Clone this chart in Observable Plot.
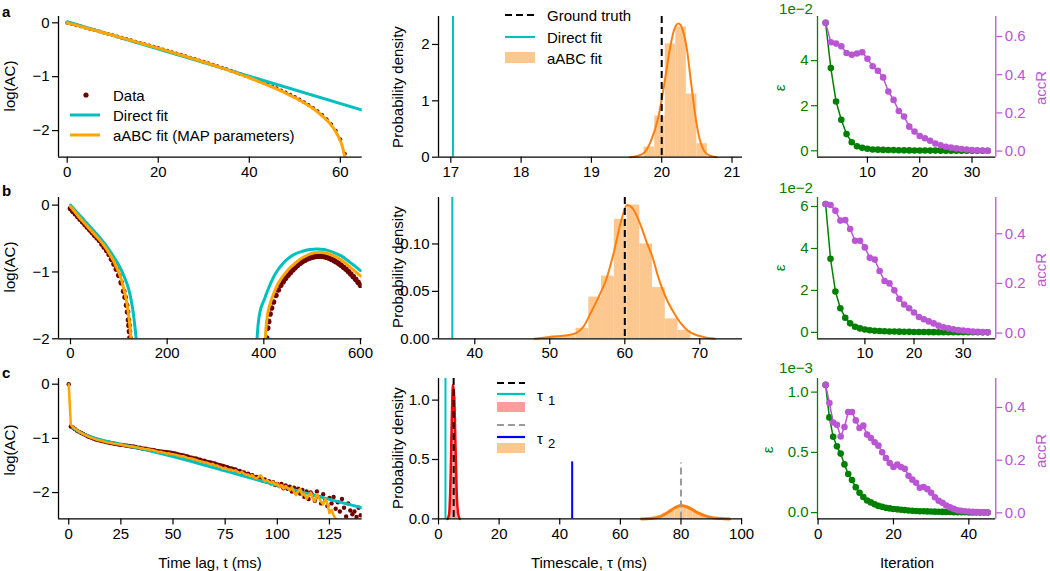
<!DOCTYPE html>
<html>
<head>
<meta charset="utf-8">
<script src="https://cdn.jsdelivr.net/npm/d3@7"></script>
<script src="https://cdn.jsdelivr.net/npm/@observablehq/plot@0.6"></script>
<style>
html,body{margin:0;padding:0;background:#fff;}
#fig{position:relative;width:1050px;height:571px;overflow:hidden;background:#fff;}
#fig svg{position:absolute;}
</style>
</head>
<body>
<div id="fig"></div>
<script>
// ================= DATA =================
// Row a, left: log(AC) of the data at t = 0,1,2,... ms
const aDataLog = [0,-0.02,-0.045,-0.068,-0.091,-0.114,-0.137,-0.16,-0.183,-0.206,
  -0.23,-0.253,-0.277,-0.3,-0.324,-0.348,-0.371,-0.395,-0.419,-0.444,
  -0.468,-0.493,-0.518,-0.543,-0.568,-0.593,-0.619,-0.645,-0.67,-0.697,
  -0.723,-0.75,-0.777,-0.805,-0.833,-0.861,-0.89,-0.92,-0.949,-0.98,
  -1.011,-1.043,-1.075,-1.109,-1.143,-1.178,-1.215,-1.253,-1.292,-1.333,
  -1.377,-1.423,-1.471,-1.523,-1.578,-1.638,-1.71,-1.79,-1.88,-2.0,
  -2.16,-2.43];
const aMapFit = [[0,0],[5,-0.115],[10,-0.232],[15,-0.35],[20,-0.47],[25,-0.597],[30,-0.728],[35,-0.868],[40,-1.02],[42,-1.087],[44,-1.155],[46,-1.228],[48,-1.305],[50,-1.39],[51,-1.435],[52,-1.483],[53,-1.535],[54,-1.592],[55,-1.655],[56,-1.725],[57,-1.805],[58,-1.9],[59,-2.02],[60,-2.19],[60.5,-2.31],[61,-2.5]];
const aDirectFit = [[0,0.02],[64.8,-1.62]];
// Row a, middle: posterior of tau
const aHistEdges = [19.75,19.9,20.05,20.2,20.35,20.5,20.65];
const aHistDens  = [0.18,0.73,2.01,2.31,1.12,0.24];
const aKde = [[19.55,0],[19.65,0.02],[19.75,0.08],[19.85,0.3],[19.95,0.7],[20.05,1.4],[20.12,1.95],[20.18,2.27],[20.24,2.37],[20.3,2.25],[20.36,1.9],[20.42,1.3],[20.48,0.72],[20.54,0.32],[20.6,0.12],[20.68,0.03],[20.78,0]];
const aTruth = 20.0, aDirect = 17.03;
// Row a, right: epsilon (x1e-2) and acceptance rate, iterations 2..33
const aEps = [5.68,3.67,2.19,1.38,0.74,0.38,0.2,0.13,0.09,0.06,0.05,0.04,0.035,0.03,0.025,0.02,0.018,0.015,0.012,0.01,0.009,0.008,0.007,0.006,0.005,0.004,0.004,0.003,0.003,0.002,0.002,0.002];
const aAcc = [0.672,0.570,0.563,0.549,0.514,0.505,0.511,0.518,0.484,0.444,0.421,0.386,0.312,0.268,0.21,0.181,0.128,0.102,0.079,0.067,0.054,0.04,0.03,0.023,0.018,0.014,0.011,0.008,0.006,0.004,0.003,0.002];

// Row b, left: two visible lobes of log(AC)
const bData1 = [[0,-0.05],[5,-0.09],[10,-0.13],[15,-0.17],[20,-0.21],[25,-0.25],[30,-0.29],[35,-0.33],[40,-0.37],[45,-0.41],[50,-0.45],[55,-0.49],[60,-0.53],[65,-0.58],[70,-0.63],[75,-0.68],[80,-0.74],[85,-0.81],[90,-0.88],[95,-0.96],[100,-1.05],[105,-1.16],[110,-1.29],[113,-1.38],[116,-1.5],[118,-1.6],[120,-1.72],[121,-1.8],[122,-1.89],[123,-1.99]];
const bData2 = [[406,-1.99],[408,-1.84],[410,-1.74],[413,-1.63],[416,-1.54],[420,-1.45],[425,-1.35],[430,-1.27],[435,-1.2],[440,-1.145],[445,-1.095],[450,-1.05],[455,-1.01],[460,-0.97],[465,-0.935],[470,-0.9],[475,-0.87],[480,-0.845],[485,-0.825],[490,-0.805],[495,-0.79],[500,-0.78],[505,-0.77],[510,-0.765],[515,-0.763],[520,-0.765],[525,-0.77],[530,-0.78],[535,-0.795],[540,-0.81],[545,-0.83],[550,-0.85],[555,-0.875],[560,-0.9],[565,-0.93],[570,-0.96],[575,-0.995],[580,-1.03],[585,-1.07],[590,-1.11],[595,-1.155],[600,-1.2]];
const bMap1 = [[0,-0.02],[10,-0.11],[20,-0.2],[30,-0.28],[40,-0.36],[50,-0.44],[60,-0.52],[70,-0.61],[80,-0.72],[90,-0.85],[100,-1.01],[105,-1.11],[110,-1.24],[115,-1.4],[120,-1.63],[123,-1.82],[125,-2.0]];
const bMap2 = [[403,-2.0],[405,-1.8],[408,-1.62],[413,-1.48],[420,-1.33],[430,-1.17],[441,-1.05],[450,-0.97],[460,-0.9],[475,-0.81],[490,-0.75],[500,-0.72],[510,-0.71],[520,-0.71],[530,-0.72],[545,-0.76],[560,-0.82],[579,-0.93],[590,-1.0],[600,-1.06]];
const bDir1 = [[0,0.0],[10,-0.08],[20,-0.16],[30,-0.24],[40,-0.32],[50,-0.4],[60,-0.48],[70,-0.57],[80,-0.67],[90,-0.78],[100,-0.9],[110,-1.05],[120,-1.25],[125,-1.4],[130,-1.62],[133,-1.8],[136,-2.0]];
const bDir2 = [[386,-2.0],[388,-1.8],[392,-1.6],[400,-1.43],[410,-1.24],[420,-1.08],[427.5,-0.985],[440,-0.87],[450,-0.8],[462,-0.74],[480,-0.69],[495,-0.665],[510,-0.655],[525,-0.665],[545,-0.71],[560,-0.76],[579,-0.86],[590,-0.92],[600,-0.98]];
// Row b, middle
const bHistEdges = [50.1,51.8,53.5,55.2,56.9,58.6,60.3,62.0,63.7,65.4,67.1,68.8];
const bHistDens  = [0.003,0.003,0.011,0.044,0.066,0.126,0.141,0.1,0.054,0.021,0.0087];
const bKde = [[48,0],[50,0.002],[51.5,0.003],[52.5,0.004],[53.5,0.006],[54.5,0.013],[55.5,0.028],[56.5,0.044],[57.5,0.062],[58.5,0.09],[59.5,0.124],[60.3,0.141],[61,0.138],[62,0.122],[63,0.1],[63.7,0.086],[64.5,0.064],[65.5,0.043],[66.5,0.028],[67.5,0.016],[68.5,0.008],[69.5,0.004],[70.5,0.002],[72,0]];
const bTruth = 60, bDirect = 37.0;
// Row b, right: iterations 2..35
const bEps = [6.12,3.51,1.95,1.15,0.7,0.43,0.27,0.19,0.14,0.1,0.08,0.065,0.055,0.045,0.04,0.035,0.03,0.025,0.02,0.018,0.015,0.013,0.011,0.009,0.008,0.007,0.006,0.005,0.004,0.004,0.003,0.003,0.002,0.002];
const bAcc = [0.52,0.516,0.493,0.453,0.455,0.419,0.372,0.372,0.345,0.303,0.296,0.25,0.21,0.2,0.172,0.138,0.115,0.1,0.083,0.065,0.056,0.047,0.039,0.03,0.023,0.019,0.015,0.012,0.01,0.008,0.006,0.005,0.004,0.003];

// Row c, left: log(AC) at t = 0,1,2,... ms
const cDataLog = [0,-0.78,-0.80,-0.83,-0.86,-0.88,-0.90,-0.92,-0.94,-0.96,
  -0.975,-0.99,-1.005,-1.02,-1.03,-1.04,-1.05,-1.06,-1.07,-1.075,
  -1.085,-1.09,-1.10,-1.105,-1.115,-1.12,-1.12,-1.13,-1.135,-1.14,
  -1.15,-1.15,-1.16,-1.17,-1.17,-1.185,-1.19,-1.19,-1.205,-1.21,
  -1.215,-1.22,-1.23,-1.235,-1.24,-1.245,-1.25,-1.255,-1.26,-1.265,
  -1.275,-1.28,-1.29,-1.30,-1.31,-1.315,-1.33,-1.335,-1.35,-1.355,
  -1.37,-1.37,-1.39,-1.395,-1.41,-1.41,-1.43,-1.44,-1.445,-1.46,
  -1.465,-1.48,-1.49,-1.50,-1.51,-1.525,-1.53,-1.55,-1.555,-1.57,
  -1.575,-1.60,-1.60,-1.63,-1.63,-1.66,-1.65,-1.69,-1.68,-1.72,
  -1.71,-1.75,-1.73,-1.78,-1.76,-1.80,-1.79,-1.83,-1.81,-1.86,
  -1.84,-1.88,-1.84,-1.92,-1.87,-1.93,-1.89,-1.98,-1.91,-1.96,
  -1.93,-2.02,-1.95,-2.08,-1.98,-2.12,-2.0,-2.05,-2.15,-1.98,
  -2.08,-2.2,-2.03,-2.13,-2.25,-2.1,-2.2,-2.08,-2.3,-2.18,
  -2.35,-2.12,-2.28,-2.44,-2.2,-2.33,-2.4,-2.35,-2.45,-2.28,
  -2.42];
const cMapFit = [0,-0.75,-0.79,-0.82,-0.85,-0.875,-0.9,-0.92,-0.94,-0.96,
  -0.975,-0.99,-1.005,-1.02,-1.03,-1.04,-1.05,-1.06,-1.07,-1.078,
  -1.085,-1.092,-1.1,-1.105,-1.11,-1.118,-1.125,-1.132,-1.14,-1.145,
  -1.15,-1.155,-1.16,-1.168,-1.175,-1.183,-1.19,-1.195,-1.2,-1.21,
  -1.215,-1.225,-1.235,-1.25,-1.245,-1.26,-1.265,-1.28,-1.275,-1.29,
  -1.295,-1.3,-1.31,-1.32,-1.33,-1.33,-1.345,-1.36,-1.365,-1.37,
  -1.39,-1.395,-1.41,-1.42,-1.43,-1.44,-1.445,-1.46,-1.48,-1.47,
  -1.5,-1.5,-1.52,-1.53,-1.56,-1.54,-1.57,-1.575,-1.58,-1.6,
  -1.59,-1.62,-1.64,-1.62,-1.65,-1.67,-1.665,-1.7,-1.68,-1.72,
  -1.74,-1.71,-1.68,-1.74,-1.79,-1.77,-1.8,-1.82,-1.8,-1.86,
  -1.83,-1.9,-1.86,-1.93,-1.88,-1.92,-1.96,-1.9,-1.99,-2.05,
  -1.97,-1.93,-2.05,-2.02,-2.12,-2.06,-2.0,-2.1,-2.16,-2.03,
  -2.1,-2.17,-2.22,-2.12,-2.2,-2.38,-2.32,-2.42,-2.48,-2.56];
const cDirectFit = [[2,-0.81],[5,-0.88],[10,-0.965],[15,-1.025],[20,-1.07],[25,-1.11],[50,-1.335],[75,-1.6],[100,-1.865],[125,-2.125],[140.7,-2.28]];
// Row c, middle: two timescales
const cTau1Edges = [3.6,4.0,4.4,4.8,5.2,5.6,6.0,6.4];
const cTau1Dens  = [0.2,0.7,1.12,1.1,0.75,0.3,0.06];
const cTau1Kde = [[3.0,0],[3.5,0.04],[4.0,0.35],[4.4,0.85],[4.8,1.13],[5.2,1.02],[5.6,0.62],[6.0,0.22],[6.5,0.04],[7.0,0]];
const cTau2Edges = [70,72,74,76,78,80,82,84,86,88,90,92];
const cTau2Dens  = [0.008,0.022,0.048,0.08,0.105,0.108,0.088,0.06,0.035,0.017,0.007];
const cTau2Kde = [[67,0],[70,0.004],[72,0.012],[74,0.03],[76,0.06],[78,0.094],[80,0.112],[82,0.1],[84,0.074],[86,0.046],[88,0.025],[90,0.012],[92,0.005],[94,0.002],[96,0]];
const cTruth1 = 5.0, cTruth2 = 80, cTruth2Top = 0.47;
const cDirect1 = 2.3, cDirect2 = 44.1, cDirect2Top = 0.48;
// Row c, right: epsilon (x1e-3), iterations 2..45
const cEps = [1.06,0.79,0.63,0.55,0.49,0.40,0.32,0.27,0.21,0.165,0.13,0.10,0.085,0.07,0.056,0.048,0.04,0.035,0.03,0.027,0.024,0.021,0.018,0.016,0.014,0.012,0.011,0.01,0.009,0.008,0.007,0.006,0.005,0.005,0.004,0.004,0.003,0.003,0.002,0.002,0.002,0.0015,0.001,0.001];
const cAcc = [0.486,0.417,0.343,0.334,0.29,0.326,0.383,0.383,0.351,0.322,0.331,0.297,0.284,0.268,0.255,0.23,0.208,0.189,0.174,0.183,0.174,0.167,0.141,0.126,0.114,0.095,0.098,0.09,0.076,0.059,0.046,0.038,0.028,0.021,0.015,0.01,0.008,0.006,0.005,0.004,0.003,0.002,0.002,0.001];
const firstIteration = 2;

// tick values
const aLxTicks=[0,20,40,60], aLyTicks=[-2,-1,0];
const aMxTicks=[17,18,19,20,21], aMyTicks=[0,1,2];
const aRxTicks=[10,20,30], aRyTicks=[0,2,4], aRy2Ticks=[0,0.2,0.4,0.6];
const bLxTicks=[0,200,400,600], bLyTicks=[-2,-1,0];
const bMxTicks=[40,50,60,70], bMyTicks=[0,0.05,0.1];
const bRxTicks=[10,20,30], bRyTicks=[0,2,4,6], bRy2Ticks=[0,0.2,0.4];
const cLxTicks=[0,25,50,75,100,125], cLyTicks=[-2,-1,0];
const cMxTicks=[0,20,40,60,80,100], cMyTicks=[0,0.5,1];
const cRxTicks=[0,20,40], cRyTicks=[0,0.5,1], cRy2Ticks=[0,0.2,0.4];

// ================= DRAWING =================
const FONT = '"Liberation Sans", Arial, Helvetica, sans-serif';
const FS = 15;
const COL = {data:"#6e0000", cyan:"#00bfbf", fit:"#ffa500", kde:"#ff7f0e", hist:"#fdc890",
  green:"#008000", mag:"#ba55d3", red:"#ff0000", pink:"#ff9c9c", blue:"#0000ff", gray:"#9a9a9a"};
const fig = document.getElementById("fig");
const ML=60, MR=62, MT=12, MB=34;
const fInt=d3.format("d"), f1=d3.format(".1f"), f2=d3.format(".2f");

function panel({frame, xd, yd, xTicks, yTicks, xFmt=fInt, yFmt=fInt, marks, yColor="black", noX=false, yRight=false}) {
  const [x0,x1,y0,y1]=frame;
  const axes = [];
  const spines = [];
  if (!noX) {
    spines.push(Plot.ruleY([yd[0]], {stroke:"black", strokeWidth:1.3}));
    axes.push(Plot.axisX({ticks:xTicks, tickFormat:xFmt, tickSize:6, tickPadding:3, label:null, strokeWidth:1.2}));
  }
  spines.push(Plot.ruleX([yRight?xd[1]:xd[0]], {stroke:yColor, strokeWidth:1.3}));
  axes.push(Plot.axisY({anchor:yRight?"right":"left", ticks:yTicks, tickFormat:yFmt, tickSize:6, tickPadding:3, label:null, color:yColor, strokeWidth:1.2}));
  const svg = Plot.plot({
    width:x1-x0+ML+MR, height:y1-y0+MT+MB,
    marginLeft:ML, marginRight:MR, marginTop:MT, marginBottom:MB,
    style:{fontFamily:FONT, fontSize:FS+"px", background:"transparent", overflow:"visible"},
    x: noX ? {domain:xd, label:null, axis:null} : {domain:xd, label:null},
    y:{domain:yd, label:null},
    marks:[...marks, ...spines, ...axes]
  });
  svg.style.left=(x0-ML)+"px"; svg.style.top=(y0-MT)+"px";
  fig.appendChild(svg);
}
const bins = (edges, dens) => dens.map((h,i)=>({x1:edges[i], x2:edges[i+1], h}));
const idx = arr => arr.map((v,i)=>({t:i, v}));
const iter = arr => arr.map((v,i)=>({i:i+firstIteration, v}));

const colL=[58,361.7], colM=[437.7,741.7], colR=[816.7,995];
const rowA=[16.3,157], rowB=[196.7,338], rowC=[378.3,518.7];

// ---- a left
panel({frame:[...colL,...rowA], xd:[-1.91,64.8], yd:[-2.494,0.117], xTicks:aLxTicks, yTicks:aLyTicks,
  marks:[
    Plot.dot(idx(aDataLog), {x:"t", y:"v", r:1.9, fill:COL.data, stroke:null, clip:true}),
    Plot.line(aDirectFit, {x:d=>d[0], y:d=>d[1], stroke:COL.cyan, strokeWidth:3, clip:true}),
    Plot.line(aMapFit, {x:d=>d[0], y:d=>d[1], stroke:COL.fit, strokeWidth:3, curve:"monotone-x", clip:true})
  ]});
// ---- a middle
panel({frame:[...colM,...rowA], xd:[16.825,21.149], yd:[0,2.496], xTicks:aMxTicks, yTicks:aMyTicks,
  marks:[
    Plot.rectY(bins(aHistEdges,aHistDens), {x1:"x1", x2:"x2", y:"h", fill:COL.hist, inset:0}),
    Plot.line(aKde, {x:d=>d[0], y:d=>d[1], stroke:COL.kde, strokeWidth:2, curve:"monotone-x"}),
    Plot.ruleX([aDirect], {stroke:COL.cyan, strokeWidth:2}),
    Plot.ruleX([aTruth], {stroke:"black", strokeWidth:2, strokeDasharray:"7,4"})
  ]});
// ---- a right
panel({frame:[...colR,...rowA], xd:[0.45,34.55], yd:[-0.284,5.96], xTicks:aRxTicks, yTicks:aRyTicks, yColor:COL.green,
  marks:[
    Plot.line(iter(aEps), {x:"i", y:"v", stroke:COL.green, strokeWidth:1.5}),
    Plot.dot(iter(aEps), {x:"i", y:"v", r:3.3, fill:COL.green, stroke:null})
  ]});
panel({frame:[...colR,...rowA], xd:[0.45,34.55], yd:[-0.032,0.705], yTicks:aRy2Ticks, yFmt:f1, yColor:COL.mag, noX:true, yRight:true,
  marks:[
    Plot.line(iter(aAcc), {x:"i", y:"v", stroke:COL.mag, strokeWidth:1.5}),
    Plot.dot(iter(aAcc), {x:"i", y:"v", r:3.3, fill:COL.mag, stroke:null})
  ]});

// ---- b left
panel({frame:[...colL,...rowB], xd:[-24.8,603.5], yd:[-2,0.114], xTicks:bLxTicks, yTicks:bLyTicks,
  marks:[
    Plot.dot(bData1.concat(bData2), {x:d=>d[0], y:d=>d[1], r:2.8, fill:COL.data, stroke:null, clip:true}),
    Plot.line(bDir1, {x:d=>d[0], y:d=>d[1], stroke:COL.cyan, strokeWidth:3, curve:"monotone-x", clip:true}),
    Plot.line(bDir2, {x:d=>d[0], y:d=>d[1], stroke:COL.cyan, strokeWidth:3, curve:"monotone-x", clip:true}),
    Plot.line(bMap1, {x:d=>d[0], y:d=>d[1], stroke:COL.fit, strokeWidth:3, curve:"monotone-x", clip:true}),
    Plot.line(bMap2, {x:d=>d[0], y:d=>d[1], stroke:COL.fit, strokeWidth:3, curve:"monotone-x", clip:true})
  ]});
// ---- b middle
panel({frame:[...colM,...rowB], xd:[35.16,75.69], yd:[0,0.149], xTicks:bMxTicks, yTicks:bMyTicks, yFmt:f2,
  marks:[
    Plot.rectY(bins(bHistEdges,bHistDens), {x1:"x1", x2:"x2", y:"h", fill:COL.hist, inset:0}),
    Plot.line(bKde, {x:d=>d[0], y:d=>d[1], stroke:COL.kde, strokeWidth:2, curve:"monotone-x"}),
    Plot.ruleX([bDirect], {stroke:COL.cyan, strokeWidth:2}),
    Plot.ruleX([bTruth], {stroke:"black", strokeWidth:2, strokeDasharray:"7,4"})
  ]});
// ---- b right
panel({frame:[...colR,...rowB], xd:[0.35,36.65], yd:[-0.306,6.43], xTicks:bRxTicks, yTicks:bRyTicks, yColor:COL.green,
  marks:[
    Plot.line(iter(bEps), {x:"i", y:"v", stroke:COL.green, strokeWidth:1.5}),
    Plot.dot(iter(bEps), {x:"i", y:"v", r:3.3, fill:COL.green, stroke:null})
  ]});
panel({frame:[...colR,...rowB], xd:[0.35,36.65], yd:[-0.023,0.546], yTicks:bRy2Ticks, yFmt:f1, yColor:COL.mag, noX:true, yRight:true,
  marks:[
    Plot.line(iter(bAcc), {x:"i", y:"v", stroke:COL.mag, strokeWidth:1.5}),
    Plot.dot(iter(bAcc), {x:"i", y:"v", r:3.3, fill:COL.mag, stroke:null})
  ]});

// ---- c left
panel({frame:[...colL,...rowC], xd:[-4.9,140.7], yd:[-2.486,0.105], xTicks:cLxTicks, yTicks:cLyTicks,
  marks:[
    Plot.dot(idx(cDataLog), {x:"t", y:"v", r:2.2, fill:COL.data, stroke:null, clip:true}),
    Plot.line(cDirectFit, {x:d=>d[0], y:d=>d[1], stroke:COL.cyan, strokeWidth:3, curve:"monotone-x", clip:true}),
    Plot.line(idx(cMapFit), {x:"t", y:"v", stroke:COL.fit, strokeWidth:2.5, clip:true})
  ]});
// ---- c middle
panel({frame:[...colM,...rowC], xd:[0,100.3], yd:[0,1.182], xTicks:cMxTicks, yTicks:cMyTicks, yFmt:f1,
  marks:[
    Plot.rectY(bins(cTau2Edges,cTau2Dens), {x1:"x1", x2:"x2", y:"h", fill:COL.hist, inset:0}),
    Plot.line(cTau2Kde, {x:d=>d[0], y:d=>d[1], stroke:COL.kde, strokeWidth:3, curve:"monotone-x"}),
    Plot.rectY(bins(cTau1Edges,cTau1Dens), {x1:"x1", x2:"x2", y:"h", fill:COL.pink, inset:0}),
    Plot.line(cTau1Kde, {x:d=>d[0], y:d=>d[1], stroke:COL.red, strokeWidth:2.5, curve:"monotone-x"}),
    Plot.ruleX([cDirect1], {stroke:COL.cyan, strokeWidth:2}),
    Plot.ruleX([cTruth1], {stroke:"black", strokeWidth:2, strokeDasharray:"7,4"}),
    Plot.ruleX([cDirect2], {y1:0, y2:cDirect2Top, stroke:COL.blue, strokeWidth:2}),
    Plot.ruleX([cTruth2], {y1:0, y2:cTruth2Top, stroke:COL.gray, strokeWidth:2, strokeDasharray:"7,4"})
  ]});
// ---- c right
panel({frame:[...colR,...rowC], xd:[-0.15,47.15], yd:[-0.052,1.113], xTicks:cRxTicks, yTicks:cRyTicks, yFmt:f1, yColor:COL.green,
  marks:[
    Plot.line(iter(cEps), {x:"i", y:"v", stroke:COL.green, strokeWidth:1.5}),
    Plot.dot(iter(cEps), {x:"i", y:"v", r:3.3, fill:COL.green, stroke:null})
  ]});
panel({frame:[...colR,...rowC], xd:[-0.15,47.15], yd:[-0.023,0.51], yTicks:cRy2Ticks, yFmt:f1, yColor:COL.mag, noX:true, yRight:true,
  marks:[
    Plot.line(iter(cAcc), {x:"i", y:"v", stroke:COL.mag, strokeWidth:1.5}),
    Plot.dot(iter(cAcc), {x:"i", y:"v", r:3.3, fill:COL.mag, stroke:null})
  ]});

// ================= LABELS & LEGENDS =================
const ov = d3.select(fig).append("svg").attr("width",1050).attr("height",571)
  .style("left","0px").style("top","0px").style("font-family",FONT).style("pointer-events","none");
function txt(x,y,s,o={}){
  const t = ov.append("text").attr("x",x).attr("y",y).text(s)
    .attr("text-anchor",o.anchor||"start").attr("dominant-baseline","central")
    .attr("font-size",o.size||FS).attr("fill",o.color||"black");
  if (o.bold) t.attr("font-weight","bold");
  if (o.rot) t.attr("transform",`rotate(${o.rot},${x},${y})`);
  return t;
}
function seg(x1,y,x2,color,dash,w=2.5){
  const l = ov.append("line").attr("x1",x1).attr("x2",x2).attr("y1",y).attr("y2",y).attr("stroke",color).attr("stroke-width",w);
  if (dash) l.attr("stroke-dasharray",dash);
}
function patch(x,y,w,h,color){ ov.append("rect").attr("x",x).attr("y",y).attr("width",w).attr("height",h).attr("fill",color); }

// panel letters
txt(2,11,"a",{bold:true,size:15}); txt(2,190,"b",{bold:true,size:15}); txt(2,372,"c",{bold:true,size:15});
// y labels
[86,267,450].forEach(y=>txt(9,y,"log(AC)",{anchor:"middle",rot:-90}));
[87,267,448].forEach(y=>txt(397.5,y,"Probability density",{anchor:"middle",rot:-90}));
txt(779,88,"ε",{anchor:"middle",rot:-90,color:COL.green});
txt(779,268,"ε",{anchor:"middle",rot:-90,color:COL.green});
txt(767,450,"ε",{anchor:"middle",rot:-90,color:COL.green});
[88,270,451].forEach(y=>txt(1040,y,"accR",{anchor:"middle",rot:-90,color:COL.mag}));
txt(796,8,"1e−2",{anchor:"middle",color:COL.green});
txt(796,187,"1e−2",{anchor:"middle",color:COL.green});
txt(796,367,"1e−3",{anchor:"middle",color:COL.green});
// x labels
txt(210,562,"Time lag, t (ms)",{anchor:"middle"});
txt(589,562,"Timescale, τ (ms)",{anchor:"middle"});
txt(907,562,"Iteration",{anchor:"middle"});

// legend a-left
ov.append("circle").attr("cx",86).attr("cy",95).attr("r",2.6).attr("fill",COL.data);
seg(70,115,100,COL.cyan,null,3);
seg(70,135,100,COL.fit,null,3);
txt(113,95,"Data"); txt(113,115,"Direct fit"); txt(113,135,"aABC fit (MAP parameters)");
// legend a-middle
seg(505,15,535,"black","7,4",2.2);
seg(505,37,535,COL.cyan,null,2.2);
patch(505,52,30,11,COL.hist);
txt(547,15,"Ground truth"); txt(547,37,"Direct fit"); txt(547,58,"aABC fit");
// legend c-middle
seg(497,383,525,"black","7,4",2.2);
seg(497,394,525,COL.cyan,null,2.2);
patch(497,402,28,10,COL.pink);
seg(497,425,525,COL.gray,"7,4",2.2);
seg(497,437,525,COL.blue,null,2.2);
patch(497,443,28,10,COL.hist);
txt(537,395,"τ"); txt(548,400,"1",{size:13});
txt(537,438,"τ"); txt(548,443,"2",{size:13});
</script>
</body>
</html>
